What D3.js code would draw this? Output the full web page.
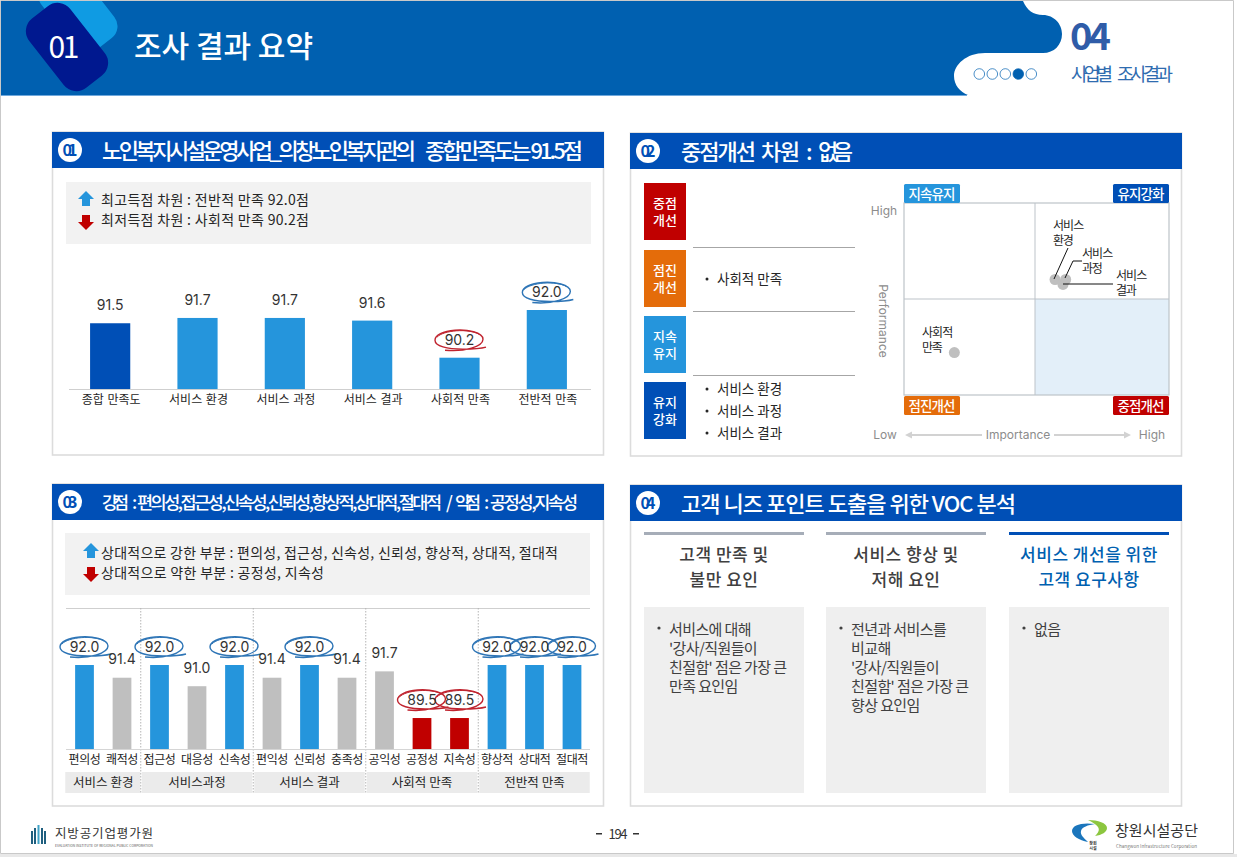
<!DOCTYPE html>
<html>
<head>
<meta charset="utf-8">
<script src="https://cdn.jsdelivr.net/npm/d3@7"></script>
<style>
html, body { margin: 0; padding: 0; background: #fff; overflow: hidden; }
svg { display: block; }
text { font-family: "Noto Sans CJK KR", "Noto Sans", sans-serif; fill: #262626; }
.num { font-family: Inter, Roboto, "Noto Sans", sans-serif; font-weight: 300; }
.domain { display: none; }
</style>
</head>
<body>
<script>
// chart 1
const dimCategories = ["종합 만족도", "서비스 환경", "서비스 과정", "서비스 결과", "사회적 만족", "전반적 만족"];
const dimValues = [91.5, 91.7, 91.7, 91.6, 90.2, 92.0];

// chart 3
const itemCategories = ["편의성", "쾌적성", "접근성", "대응성", "신속성", "편익성", "신뢰성", "충족성", "공익성", "공정성", "지속성", "향상적", "상대적", "절대적"];
const itemValues = [92.0, 91.4, 92.0, 91.0, 92.0, 91.4, 92.0, 91.4, 91.7, 89.5, 89.5, 92.0, 92.0, 92.0];
const itemGroups = ["서비스 환경", "서비스과정", "서비스 결과", "사회적 만족", "전반적 만족"];
const itemGroupSizes = [2, 3, 3, 3, 3];

// chart 2 matrix
const matrixLabels = ["서비스 환경", "서비스 과정", "서비스 결과", "사회적 만족"];
const matrixImportance = [0.57, 0.61, 0.60, 0.19];
const matrixPerformance = [91.7, 91.7, 91.6, 90.2];

const BLUE = "#2595DC", NAVY = "#004FB6", RED = "#C00000", ORANGE = "#E46C0A", GRAY = "#BFBFBF";

let svg = d3.select("body").append("svg")
    .attr("width", 1237)
    .attr("height", 857);

svg.append("rect").attr("width", 1237).attr("height", 857).attr("fill", "#fff");

// page frame
svg.append("path")
    .attr("d", "M0.5,0.5H1233.5V853.5H0.5Z")
    .attr("fill", "none")
    .attr("stroke", "#c9c9c9");
svg.append("rect").attr("x", 0).attr("y", 854).attr("width", 1237).attr("height", 3).attr("fill", "#e8e8e8");

function label(g, x, y, str, size, opts) {
    opts = opts || {};
    let t = g.append("text")
        .attr("x", x)
        .attr("y", y - 0.8)
        .attr("dominant-baseline", "central")
        .style("font-size", size + "px")
        .style("font-weight", opts.weight || 400)
        .style("fill", opts.fill || "#262626")
        .attr("text-anchor", opts.anchor || "start")
        .text(str);
    if (opts.width) t.attr("textLength", opts.width).attr("lengthAdjust", "spacing");
    return t;
}

// top banner
svg.append("path")
    .attr("d", "M1,1H1023C1027,10 1033,15 1043,15C1054,15 1062,24 1062,34C1062,45 1054,53 1043,53H985C966,53 954,65 954,76C954,85 960,92 968,95H1Z")
    .attr("fill", "#0060B0");
svg.append("rect").attr("x", 1).attr("y", 95).attr("width", 966).attr("height", 1).attr("fill", "#6FA8DC");

let clipTop = svg.append("clipPath").attr("id", "bannerClip");
clipTop.append("rect").attr("x", 1).attr("y", 1).attr("width", 300).attr("height", 94);
let badge = svg.append("g").attr("clip-path", "url(#bannerClip)");
badge.append("rect")
    .attr("x", -25).attr("y", -42).attr("width", 50).attr("height", 84).attr("rx", 15)
    .attr("transform", "translate(78,11) rotate(-38)")
    .attr("fill", "#0F9BE3");
badge.append("rect")
    .attr("x", -26).attr("y", -44).attr("width", 52).attr("height", 88).attr("rx", 16)
    .attr("transform", "translate(67,47) rotate(-38)")
    .attr("fill", "#00188F");
label(svg, 64, 46, "01", 30, { fill: "#fff", anchor: "middle", width: 31 });
label(svg, 134, 45, "조사 결과 요약", 30, { fill: "#fff", weight: 500, width: 179 });
label(svg, 1070, 34, "04", 38, { fill: "#2F5CA8", weight: 700, width: 41 });
label(svg, 1071, 74, "사업별", 18.5, { fill: "#2F6CB0", width: 42 });
label(svg, 1117, 74, "조사결과", 18.5, { fill: "#2F6CB0", width: 56 });

// progress dots
d3.range(5).forEach(i => {
    svg.append("circle")
        .attr("cx", 979.3 + i * 13)
        .attr("cy", 74)
        .attr("r", 5.3)
        .attr("fill", i == 3 ? "#0060B0" : "#fff")
        .attr("stroke", "#0060B0")
        .attr("stroke-width", 0.7);
});

// panels, a title is a list of [text, x, width] runs
function panel(x, y, h, num, runs, titleSize) {
    svg.append("rect")
        .attr("x", x + 0.5).attr("y", y).attr("width", 551).attr("height", h)
        .attr("fill", "#fff").attr("stroke", "#dcdcdc").attr("stroke-width", 1.6);
    svg.append("rect")
        .attr("x", x).attr("y", y).attr("width", 552).attr("height", 36)
        .attr("fill", NAVY);
    svg.append("circle").attr("cx", x + 18).attr("cy", y + 18).attr("r", 12).attr("fill", "#fff");
    label(svg, x + 18, y + 18, num, 16, { anchor: "middle", fill: "#004FB6", weight: 700, width: 15 });
    runs.forEach(r => {
        label(svg, r[1], y + 18, r[0], titleSize, { fill: "#fff", weight: 500, width: r[2] });
    });
}
panel(52, 132, 323, "01", [["노인복지시설운영사업_의창노인복지관의", 102, 314], ["종합만족도는 91.5점", 425, 158]], 22);
panel(630, 133, 323, "02", [["중점개선", 681, 75], ["차원", 761, 39], [":", 806, 4], ["없음", 818, 35]], 22);
panel(52, 484, 322, "03", [["강점", 102, 27], [":", 132, 4], ["편의성,접근성,신속성,신뢰성,향상적,상대적,절대적", 137, 305], ["/", 446, 6], ["약점", 455, 26], [":", 484, 4], ["공정성,지속성", 490, 88]], 17.5);
panel(630, 485, 321, "04", [["고객 니즈 포인트 도출을 위한 VOC 분석", 681, 335]], 22);

function arrow(x, y, up, color) {
    let d = up ? "M0,-8L8,0H4V7H-4V0H-8Z" : "M0,8L8,0H4V-7H-4V0H-8Z";
    svg.append("path").attr("transform", `translate(${x},${y})`).attr("d", d).attr("fill", color);
}

// call-out boxes
svg.append("rect").attr("x", 66).attr("y", 182).attr("width", 525).attr("height", 62).attr("fill", "#F2F2F2");
arrow(86, 199, true, BLUE);
arrow(86, 222, false, RED);
label(svg, 101, 199.5, "최고득점 차원 : 전반적 만족 92.0점", 14, { width: 208 });
label(svg, 101, 220, "최저득점 차원 : 사회적 만족 90.2점", 14, { width: 208 });

svg.append("rect").attr("x", 65).attr("y", 533).attr("width", 525).attr("height", 62).attr("fill", "#F2F2F2");
arrow(91, 551, true, BLUE);
arrow(91, 574, false, RED);
label(svg, 101, 552.5, "상대적으로 강한 부분 : 편의성, 접근성, 신속성, 신뢰성, 향상적, 상대적, 절대적", 14, { width: 457 });
label(svg, 101, 572.5, "상대적으로 약한 부분 : 공정성, 지속성", 14, { width: 223 });

// hand drawn ring around a highlighted number
function ring(g, x, y, color) {
    g.append("path")
        .attr("transform", `translate(${x},${y})`)
        .attr("d", "M-14,10C6,12 24,6 24,-1C24,-8 8,-11 -4,-10C-16,-9 -24,-5 -24,0C-24,6 -12,9 4,9C12,9 20,9 27,7")
        .attr("fill", "none")
        .attr("stroke", color)
        .attr("stroke-width", 1.4);
    g.append("path")
        .attr("transform", `translate(${x},${y})`)
        .attr("d", "M-22,-3C-16,-10 10,-12 20,-6")
        .attr("fill", "none")
        .attr("stroke", color)
        .attr("stroke-width", 1);
}

// graph 1
let x1 = d3.scaleBand()
    .domain(dimCategories)
    .range([66.5, 590.5])
    .paddingInner(0.54)
    .paddingOuter(0.27);
let y1 = d3.scaleLinear().domain([89, 92]).range([389.5, 310]);

let g1 = svg.append("g");
g1.selectAll("rect").data(dimValues).enter().append("rect")
    .attr("x", (d, i) => x1(dimCategories[i]))
    .attr("y", d => y1(d))
    .attr("width", x1.bandwidth())
    .attr("height", d => y1(89) - y1(d))
    .attr("fill", (d, i) => i == 0 ? NAVY : BLUE);
g1.append("line")
    .attr("x1", 69).attr("x2", 591).attr("y1", 389.5).attr("y2", 389.5)
    .attr("stroke", "#cfcfcf");
g1.append("g")
    .attr("transform", "translate(1,389.5)")
    .call(d3.axisBottom(x1).tickSize(0).tickPadding(6))
    .selectAll("text")
    .style("font-size", "12px")
    .style("word-spacing", "1px")
    .style("font-family", '"Noto Sans CJK KR"')
    .attr("fill", "#262626");

dimValues.forEach((d, i) => {
    let cx = x1(dimCategories[i]) + x1.bandwidth() / 2;
    let cy = y1(d) - 17.5;
    if (d == d3.max(dimValues)) ring(g1, cx - 0.5, cy, "#2E75B6");
    if (d == d3.min(dimValues)) ring(g1, cx - 0.5, cy, "#C0242F");
    label(g1, cx, cy, d.toFixed(1), 14, { anchor: "middle", fill: "#333" }).attr("class", "num");
});

// graph 3
let x3 = d3.scaleBand()
    .domain(itemCategories.map((d, i) => i))
    .range([65.75, 590.75])
    .paddingInner(0.5)
    .paddingOuter(0.25);
let y3 = d3.scaleLinear().domain([88.04, 92]).range([749, 665]);
let colorFor = d => d == 92 ? BLUE : d < 90 ? RED : GRAY;

let g3 = svg.append("g");
g3.append("line").attr("x1", 66).attr("x2", 590).attr("y1", 608.5).attr("y2", 608.5).attr("stroke", "#cfcfcf");

// group strip and separators come from the band scale
let start = 0;
itemGroups.forEach((name, i) => {
    let step = x3.step();
    let left = x3(start) - (step - x3.bandwidth()) / 2;
    let right = left + step * itemGroupSizes[i];
    g3.append("rect")
        .attr("x", i == 0 ? left - 0.5 : left + 1)
        .attr("y", 772)
        .attr("width", right - left - (i == 0 ? 0 : 2))
        .attr("height", 21)
        .attr("fill", "#EBEBEB");
    label(g3, (left + right) / 2, 782.5, name, 12.5, { anchor: "middle" });
    if (i < itemGroups.length - 1) {
        g3.append("line")
            .attr("x1", right).attr("x2", right)
            .attr("y1", 608).attr("y2", 793)
            .attr("stroke", "#b5b5b5")
            .attr("stroke-dasharray", "1.5,1.5");
    }
    start += itemGroupSizes[i];
});

g3.selectAll("rect.bar").data(itemValues).enter().append("rect")
    .attr("class", "bar")
    .attr("x", (d, i) => x3(i))
    .attr("y", d => y3(d))
    .attr("width", x3.bandwidth())
    .attr("height", d => 749 - y3(d))
    .attr("fill", d => colorFor(d));
g3.append("line").attr("x1", 66).attr("x2", 590).attr("y1", 749.5).attr("y2", 749.5).attr("stroke", "#d5d5d5");

g3.append("g")
    .attr("transform", "translate(0,749.5)")
    .call(d3.axisBottom(x3).tickSize(0).tickPadding(6).tickFormat(i => itemCategories[i]))
    .selectAll("text")
    .style("font-size", "12px")
    .style("letter-spacing", "-0.3px")
    .style("font-family", '"Noto Sans CJK KR"')
    .attr("fill", "#262626");

itemValues.forEach((d, i) => {
    let cx = x3(i) + x3.bandwidth() / 2;
    let cy = y3(d) - 18;
    if (d == 92) ring(g3, cx - 0.5, cy, "#2E75B6");
    if (d == 89.5) ring(g3, cx - 0.5, cy, "#C0242F");
});
itemValues.forEach((d, i) => {
    let cx = x3(i) + x3.bandwidth() / 2;
    label(g3, cx, y3(d) - 18, d.toFixed(1), 14, { anchor: "middle", fill: "#333" }).attr("class", "num");
});

// graph 2 left list
const tiers = [
    ["중점", "개선", RED, 183],
    ["점진", "개선", ORANGE, 250],
    ["지속", "유지", BLUE, 316],
    ["유지", "강화", NAVY, 382]
];
tiers.forEach(t => {
    svg.append("rect").attr("x", 644).attr("y", t[3]).attr("width", 42).attr("height", 57).attr("fill", t[2]);
    label(svg, 665, t[3] + 20, t[0], 13, { anchor: "middle", fill: "#fff", weight: 500 });
    label(svg, 665, t[3] + 37, t[1], 13, { anchor: "middle", fill: "#fff", weight: 500 });
});
[247, 311, 375].forEach(y => {
    svg.append("line").attr("x1", 693).attr("x2", 855).attr("y1", y + 0.5).attr("y2", y + 0.5).attr("stroke", "#a6a6a6");
});
[["사회적 만족", 279], ["서비스 환경", 389], ["서비스 과정", 411], ["서비스 결과", 433]].forEach(t => {
    svg.append("circle").attr("cx", 707).attr("cy", t[1]).attr("r", 1.5).attr("fill", "#262626");
    label(svg, 717, t[1], t[0], 13.5);
});

// graph 2 matrix
let mx = d3.scaleLinear().domain([0, 1]).range([904, 1169]);
let my = d3.scaleLinear().domain([89.33, 93.27]).range([395, 203]);
const midX = 1035, midY = 299;

svg.append("rect").attr("x", midX).attr("y", midY).attr("width", 1169 - midX).attr("height", 395 - midY).attr("fill", "#E3EFF9");
svg.append("rect").attr("x", 904).attr("y", 203).attr("width", 265).attr("height", 192)
    .attr("fill", "none").attr("stroke", "#bdc3c9").attr("stroke-width", 1.2);
svg.append("line").attr("x1", midX).attr("x2", midX).attr("y1", 203).attr("y2", 395).attr("stroke", "#bdc3c9");
svg.append("line").attr("x1", 904).attr("x2", 1169).attr("y1", midY).attr("y2", midY).attr("stroke", "#bdc3c9");

[["지속유지", 904, 184, BLUE], ["유지강화", 1113, 184, NAVY], ["점진개선", 904, 396, ORANGE], ["중점개선", 1113, 396, RED]].forEach(t => {
    svg.append("rect").attr("x", t[1]).attr("y", t[2]).attr("width", 56).attr("height", 19).attr("rx", 1.5).attr("fill", t[3]);
    label(svg, t[1] + 28, t[2] + 9.5, t[0], 13.5, { anchor: "middle", fill: "#fff", weight: 500, width: 47 });
});

svg.selectAll("circle.pt").data(matrixPerformance).enter().append("circle")
    .attr("class", "pt")
    .attr("cx", (d, i) => mx(matrixImportance[i]))
    .attr("cy", d => my(d))
    .attr("r", 5.5)
    .attr("fill", GRAY);

// leader lines and point labels
svg.append("path").attr("d", "M1054,279L1068,248").attr("fill", "none").attr("stroke", "#111");
svg.append("path").attr("d", "M1065,278L1073,261H1082").attr("fill", "none").attr("stroke", "#111");
svg.append("path").attr("d", "M1063,284H1113").attr("fill", "none").attr("stroke", "#111");
[[1053, 225, 0], [1082, 253, 1], [1116, 275, 2], [922, 332, 3]].forEach(p => {
    let parts = matrixLabels[p[2]].split(" ");
    label(svg, p[0], p[1], parts[0], 12, { width: parts[0].length * 10.4 });
    label(svg, p[0], p[1] + 15, parts[1], 12, { width: parts[1].length * 10.4 });
});

label(svg, 884, 211, "High", 12, { anchor: "middle", fill: "#8c8c8c" }).attr("class", "num").style("font-weight", 400);
label(svg, 883, 321, "Performance", 12, { anchor: "middle", fill: "#8c8c8c" })
    .attr("class", "num").style("font-weight", 400)
    .attr("transform", "rotate(90,883,321)");
label(svg, 885, 435, "Low", 12, { anchor: "middle", fill: "#8c8c8c" }).attr("class", "num").style("font-weight", 400);
label(svg, 1018, 435, "Importance", 12, { anchor: "middle", fill: "#8c8c8c" }).attr("class", "num").style("font-weight", 400);
label(svg, 1152, 435, "High", 12, { anchor: "middle", fill: "#8c8c8c" }).attr("class", "num").style("font-weight", 400);
svg.append("path").attr("d", "M905,435L912,431.5V434H982V436H912V438.5Z").attr("fill", "#d2d2d2");
svg.append("path").attr("d", "M1131,435L1124,431.5V434H1054V436H1124V438.5Z").attr("fill", "#d2d2d2");

// graph 4 columns
const vocCols = [
    { x: 644, head: ["고객 만족 및", "불만 요인"], color: "#404040", rule: "#A6ADB8", body: ["서비스에 대해", "'강사/직원들이", "친절함' 점은 가장 큰", "만족 요인임"] },
    { x: 826, head: ["서비스 향상 및", "저해 요인"], color: "#404040", rule: "#A6ADB8", body: ["전년과 서비스를", "비교해", "'강사/직원들이", "친절함' 점은 가장 큰", "향상 요인임"] },
    { x: 1009, head: ["서비스 개선을 위한", "고객 요구사항"], color: "#0060B0", rule: "#004FB6", body: ["없음"] }
];
vocCols.forEach(c => {
    svg.append("rect").attr("x", c.x).attr("y", 532).attr("width", 160).attr("height", 3).attr("fill", c.rule);
    c.head.forEach((line, i) => {
        label(svg, c.x + 80, 554.5 + i * 25, line, 17, { anchor: "middle", fill: c.color, weight: 500 }).style("letter-spacing", "0.5px");
    });
    svg.append("rect").attr("x", c.x).attr("y", 607).attr("width", 160).attr("height", 186).attr("fill", "#EFEFEF");
    svg.append("circle").attr("cx", c.x + 15).attr("cy", 628).attr("r", 1.6).attr("fill", "#404040");
    c.body.forEach((line, i) => {
        label(svg, c.x + 25, 629 + i * 19, line, 15, { fill: "#404040" }).style("letter-spacing", "-0.6px");
    });
});

// footer
label(svg, 618, 834.5, "194", 13, { anchor: "middle", fill: "#333", width: 19 });
svg.append("rect").attr("x", 596).attr("y", 833).attr("width", 6).attr("height", 1.5).attr("fill", "#333");
svg.append("rect").attr("x", 633).attr("y", 833).attr("width", 6).attr("height", 1.5).attr("fill", "#333");

// left logo
[[31, 831, 844, "#1F5F7F"], [34, 828, 844, "#1F5F7F"], [37.5, 825, 844, "#3FA3C8"], [41, 828, 844, "#1F5F7F"], [44, 831, 844, "#1F5F7F"]].forEach(b => {
    svg.append("rect").attr("x", b[0]).attr("y", b[1]).attr("width", 2).attr("height", b[2] - b[1]).attr("fill", b[3]);
});
label(svg, 55, 833, "지방공기업평가원", 12.5, { fill: "#333", width: 98 });
label(svg, 55, 846.5, "EVALUATION INSTITUTE OF REGIONAL PUBLIC CORPORATION", 3.4, { fill: "#555", width: 98 });

// right logo
svg.append("path").attr("d", "M1095,824C1082,822 1072,825 1072,831C1072,836 1079,840 1088,842C1084,838 1080,835 1081,831C1082,827 1088,825 1095,824Z").attr("fill", "#1B76BC");
svg.append("path").attr("d", "M1088,820C1098,820 1107,823 1107,828C1107,832 1102,835 1095,836C1098,833 1100,830 1098,827C1096,824 1092,822 1088,820Z").attr("fill", "#8CC63F");
label(svg, 1093, 844, "창원", 4, { anchor: "middle", fill: "#333", weight: 700 });
label(svg, 1093, 849, "시설", 4, { anchor: "middle", fill: "#333", weight: 700 });
label(svg, 1115, 830, "창원시설공단", 15, { fill: "#333", width: 83 });
label(svg, 1116, 847, "Changwon Infrastructure Corporation", 4.5, { fill: "#777", width: 81 });
</script>
</body>
</html>
